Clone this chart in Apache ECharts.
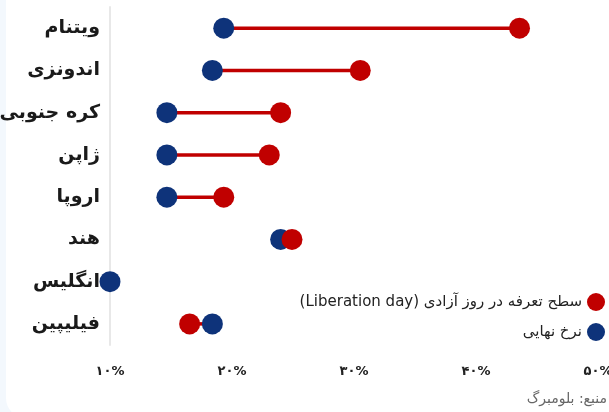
<!DOCTYPE html>
<html>
<head>
<meta charset="utf-8">
<script src="https://cdn.jsdelivr.net/npm/echarts@6/dist/echarts.min.js"></script>
<style>
  html, body { margin: 0; padding: 0; background: #f3f8fd; }
  #chart { width: 609px; height: 412px; }
</style>
</head>
<body>
<div id="chart"></div>
<script>
// Tariff rates per country: level announced on "Liberation day" vs. final rate (%)
const countries = ['ویتنام', 'اندونزی', 'کره جنوبی', 'ژاپن', 'اروپا', 'هند', 'انگلیس', 'فیلیپین'];
const liberationDay = [46, 32, 25, 24, 20, 26, null, 17];
const finalRate = [20, 19, 15, 15, 15, 25, 10, 19];
const tickLabels = ['۱۰%', '۲۰%', '۳۰%', '۴۰%', '۵۰%'];
const seriesNames = ['سطح تعرفه در روز آزادی (Liberation day)', 'نرخ نهایی'];
const sourceText = 'منبع: بلومبرگ';

const RED = '#c00000';
const BLUE = '#0e337a';
const FONT = 'DejaVu Sans';

const rtl = s => '\u202B' + s + '\u202C';

const segments = countries.map((c, i) => [i, finalRate[i], liberationDay[i] == null ? finalRate[i] : liberationDay[i]]);

const chart = echarts.init(document.getElementById('chart'), null, { renderer: 'canvas' });

chart.setOption({
  backgroundColor: '#f3f8fd',
  animation: false,
  textStyle: { fontFamily: FONT },
  graphic: [
    {
      type: 'rect', z: -10, silent: true,
      shape: { x: 6, y: -40, width: 640, height: 458, r: 20 },
      style: { fill: '#ffffff' }
    },
    {
      type: 'text', z: 10, silent: true,
      style: {
        text: sourceText, x: 607, y: 399, align: 'right', verticalAlign: 'middle',
        fill: '#666666', font: '14px "DejaVu Sans"'
      }
    }
  ],
  grid: { left: 110, right: 11, top: 7, bottom: 67, containLabel: false, outerBoundsMode: 'none' },
  xAxis: [
    {
      // value scale used by the marks
      type: 'value', min: 10, max: 52.9, show: false
    },
    {
      // tick labels along the bottom
      type: 'value', min: 10, max: 50, interval: 10, position: 'bottom',
      axisLine: { show: false }, axisTick: { show: false }, splitLine: { show: false },
      axisLabel: {
        margin: 20, fontSize: 13, fontWeight: 'bold', color: '#222222', fontFamily: FONT,
        formatter: v => tickLabels[Math.round((v - 10) / 10)]
      }
    }
  ],
  yAxis: {
    type: 'category', data: countries, inverse: true,
    axisLine: { show: true, lineStyle: { color: '#e8e8e8', width: 2 } },
    axisTick: { show: false },
    splitLine: { show: false },
    axisLabel: { fontSize: 19, fontWeight: 'bold', color: '#1a1a1a', margin: 10, fontFamily: FONT }
  },
  legend: [
    {
      data: [seriesNames[0]], right: 4, top: 293, padding: 0, orient: 'vertical', align: 'right',
      icon: 'circle', itemWidth: 18, itemHeight: 18, itemGap: 4,
      textStyle: { fontSize: 15, color: '#222222', fontFamily: FONT },
      formatter: n => rtl(n)
    },
    {
      data: [seriesNames[1]], right: 4, top: 323, padding: 0, orient: 'vertical', align: 'right',
      icon: 'circle', itemWidth: 18, itemHeight: 18, itemGap: 4,
      textStyle: { fontSize: 15, color: '#222222', fontFamily: FONT },
      formatter: n => rtl(n)
    }
  ],
  series: [
    {
      type: 'custom', name: 'connector', xAxisIndex: 0, yAxisIndex: 0,
      silent: true, z: 1,
      encode: { x: [1, 2], y: 0 },
      data: segments,
      renderItem: (params, api) => {
        const a = api.coord([api.value(1), api.value(0)]);
        const b = api.coord([api.value(2), api.value(0)]);
        return {
          type: 'line',
          shape: { x1: a[0], y1: a[1], x2: b[0], y2: b[1] },
          style: { stroke: RED, lineWidth: 3.5 }
        };
      }
    },
    {
      type: 'scatter', name: seriesNames[1], xAxisIndex: 0, yAxisIndex: 0, z: 2,
      symbol: 'circle', symbolSize: 21,
      itemStyle: { color: BLUE, opacity: 1 },
      data: finalRate.map((v, i) => [v, i])
    },
    {
      type: 'scatter', name: seriesNames[0], xAxisIndex: 0, yAxisIndex: 0, z: 3,
      symbol: 'circle', symbolSize: 21,
      itemStyle: { color: RED, opacity: 1 },
      data: liberationDay.map((v, i) => [v == null ? '-' : v, i])
    }
  ]
});
</script>
</body>
</html>
